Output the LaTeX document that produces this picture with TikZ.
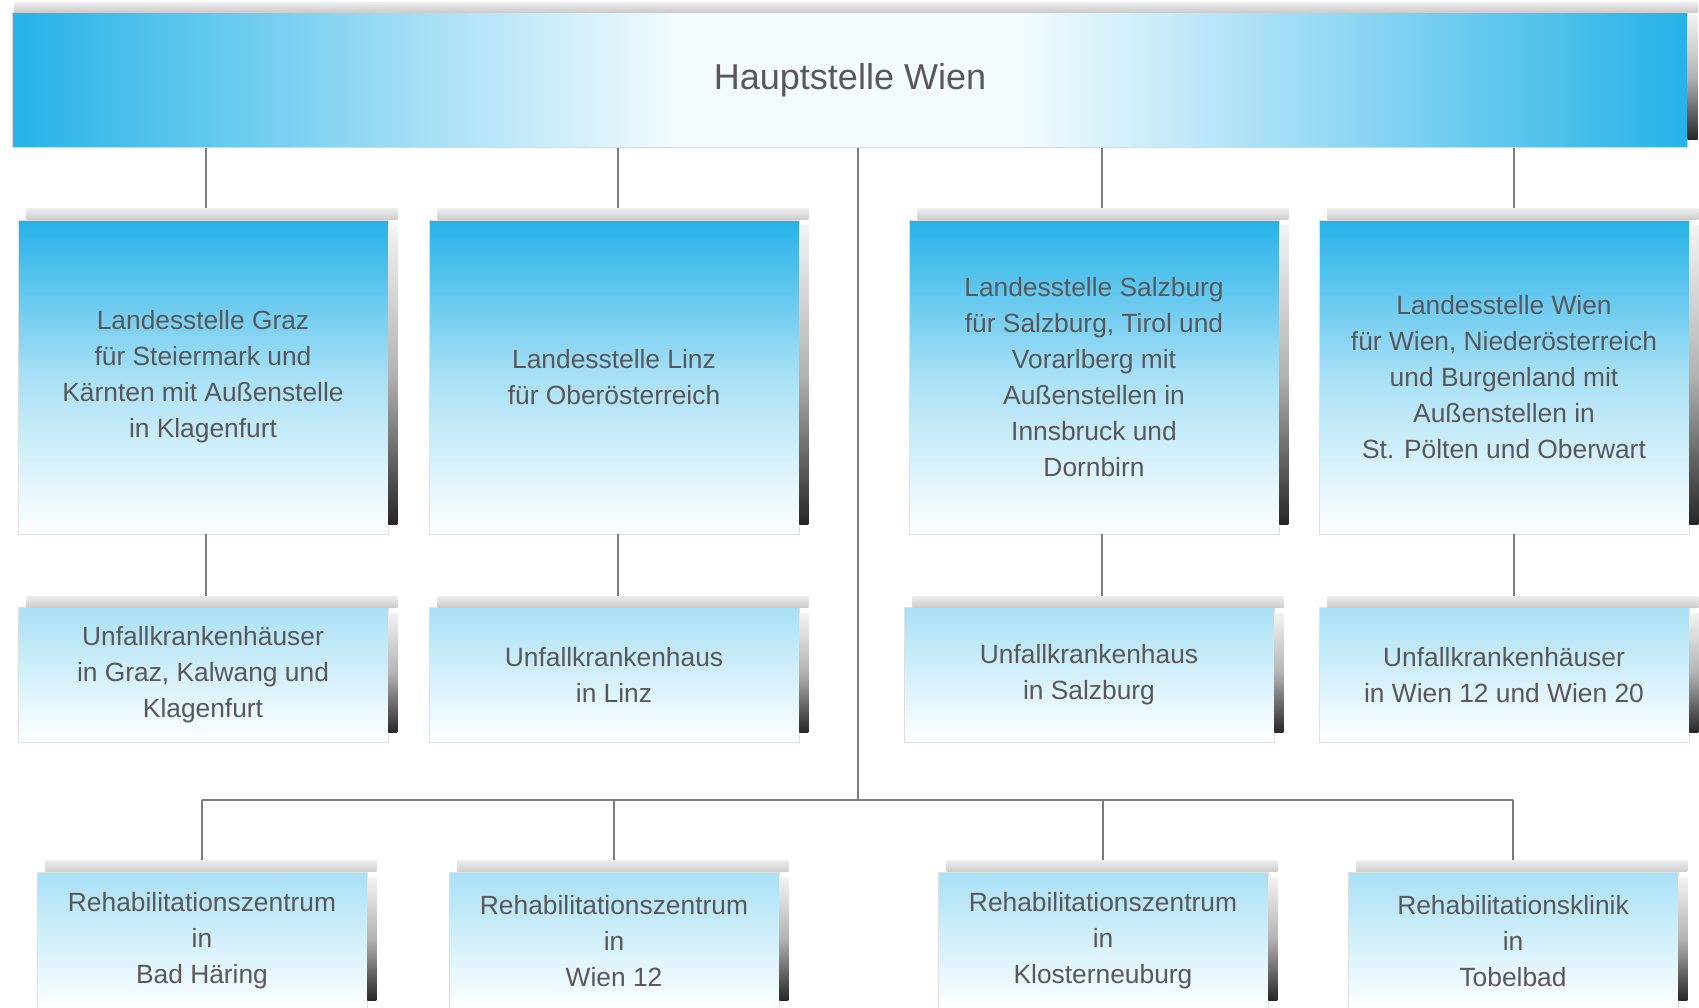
\documentclass[tikz,border=0pt]{standalone}
\usepackage{fontspec}
\setmainfont{Liberation Sans}
\usetikzlibrary{positioning}

\definecolor{hvblue}{RGB}{38,178,232}
\definecolor{hvtext}{RGB}{88,88,92}
\definecolor{hvline}{RGB}{125,125,125}

\pgfdeclarehorizontalshading{headshade}{100bp}{color(0bp)=(hvblue); color(25bp)=(hvblue);
    color(45bp)=(white!95!hvblue); color(55bp)=(white!95!hvblue); color(75bp)=(hvblue); color(100bp)=(hvblue)}

\tikzset{
    headbox/.style={draw=gray!30, shading=headshade,
        minimum width=33.5cm, minimum height=2.7cm, text=hvtext, font=\fontsize{20.5}{24}\selectfont},
    landbox/.style={draw=gray!25, top color=hvblue, bottom color=white, middle color=hvblue!40,
        minimum width=7.4cm, minimum height=6.28cm, align=center, text=hvtext,
        font=\fontsize{15}{20.5}\selectfont},
    housebox/.style={draw=gray!25, top color=hvblue!40, bottom color=white,
        minimum width=7.4cm, minimum height=2.7cm, align=center, text=hvtext,
        font=\fontsize{15}{20.5}\selectfont},
    rehabox/.style={housebox, minimum width=6.6cm, minimum height=2.76cm},
    conn/.style={draw=hvline, line width=1pt},
    topshade/.style={top color=gray!15, bottom color=gray!40},
    sideshade/.style={top color=gray!10, bottom color=black!85, middle color=gray!60}
}

\begin{document}
\begin{tikzpicture}[x=0.02cm, y=-0.02cm]
    \useasboundingbox (0,0) rectangle (1699,1007);

    \node[headbox] (top) at (850,80) {Hauptstelle Wien};

    \node[landbox] (lg) at (203,377) {Landesstelle Graz\\für Steiermark und\\Kärnten mit Außenstelle\\in Klagenfurt};
    \node[landbox] (ll) at (614,377) {Landesstelle Linz\\für Oberösterreich};
    \node[landbox] (ls) at (1094,377) {Landesstelle Salzburg\\für Salzburg, Tirol und\\Vorarlberg mit\\Außenstellen in\\Innsbruck und\\Dornbirn};
    \node[landbox] (lw) at (1504,377) {Landesstelle Wien\\für Wien, Niederösterreich\\und Burgenland mit\\Außenstellen in\\St. Pölten und Oberwart};

    \node[housebox] (ug) at (203,675) {Unfallkrankenhäuser\\in Graz, Kalwang und\\Klagenfurt};
    \node[housebox] (ul) at (614,675) {Unfallkrankenhaus\\in Linz};
    \node[housebox] (us) at (1089,675) {Unfallkrankenhaus\\in Salzburg};
    \node[housebox] (uw) at (1504,675) {Unfallkrankenhäuser\\in Wien 12 und Wien 20};

    \node[rehabox] (rb) at (202,941) {Rehabilitationszentrum\\in\\Bad Häring};
    \node[rehabox] (rw) at (614,941) {Rehabilitationszentrum\\in\\Wien 12};
    \node[rehabox] (rk) at (1103,941) {Rehabilitationszentrum\\in\\Klosterneuburg};
    \node[rehabox] (rt) at (1513,941) {Rehabilitationsklinik\\in\\Tobelbad};

    % connectors
    \coordinate (col1) at (206,0);
    \coordinate (col2) at (618,0);
    \coordinate (col3) at (1102,0);
    \coordinate (col4) at (1514,0);
    \coordinate (bus) at (858,800);
    \draw[conn] (col1 |- top.south) -- (col1 |- lg.north);
    \draw[conn] (col2 |- top.south) -- (col2 |- ll.north);
    \draw[conn] (col3 |- top.south) -- (col3 |- ls.north);
    \draw[conn] (col4 |- top.south) -- (col4 |- lw.north);
    \draw[conn] (col1 |- lg.south) -- (col1 |- ug.north);
    \draw[conn] (col2 |- ll.south) -- (col2 |- ul.north);
    \draw[conn] (col3 |- ls.south) -- (col3 |- us.north);
    \draw[conn] (col4 |- lw.south) -- (col4 |- uw.north);
    \draw[conn] (top.south -| bus) -- (bus);
    \draw[conn] (rb.north |- bus) -- (rt.north |- bus);
    \foreach \n in {rb,rw,rk,rt}
        \draw[conn] (\n.north |- bus) -- (\n.north);

    % shadows
    \shade[topshade] ([shift={(2,-10)}]top.north west) rectangle ([shift={(10,0)}]top.north east);
    \shade[sideshade] ([shift={(0,3)}]top.north east) rectangle ([shift={(10,-8)}]top.south east);
    \foreach \n in {lg,ll,ls,lw,ug,ul,us,uw,rb,rw,rk,rt} {
        \shade[topshade] ([shift={(9,-11)}]\n.north west) rectangle ([shift={(9,0)}]\n.north east);
        \shade[sideshade] ([shift={(0,6)}]\n.north east) rectangle ([shift={(9,-10)}]\n.south east);
    }
\end{tikzpicture}
\end{document}
